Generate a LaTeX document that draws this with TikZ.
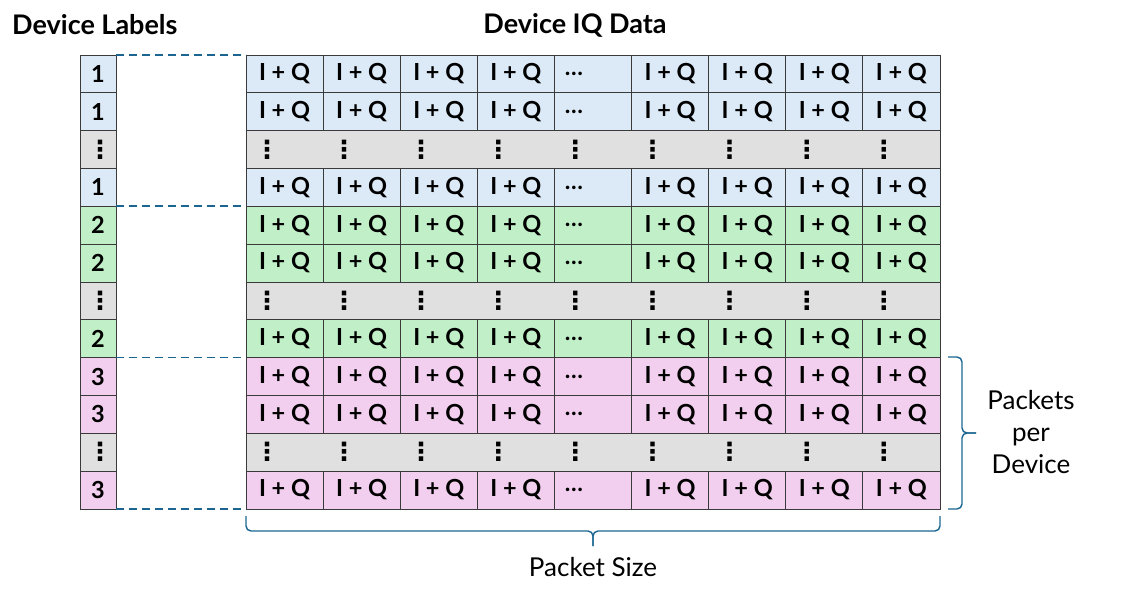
\documentclass[tikz,border=0pt]{standalone}
\usepackage{fontspec}
\setmainfont{Lato}
\newfontfamily\symfont{DejaVu Sans}
\definecolor{cblue}{HTML}{DCEAF7}
\definecolor{cgreen}{HTML}{C1F0C8}
\definecolor{cpink}{HTML}{F2CFEE}
\definecolor{cgray}{HTML}{E0E0E0}
\definecolor{cteal}{HTML}{1A6690}
\definecolor{cline}{HTML}{3A3A3A}
\tikzset{
  cellbox/.style={draw=cline, line width=0.9pt, minimum height=37.83pt, inner sep=0pt, outer sep=0pt, font=\fontsize{23.5}{26}\selectfont\bfseries},
  labbox/.style={cellbox, minimum width=36pt},
  datbox/.style={cellbox, minimum width=77.11pt},
  dotsym/.style={inner sep=0pt, font=\symfont\fontsize{25}{27}\selectfont\bfseries},
  dashline/.style={draw=cteal, line width=1.7pt, dash pattern=on 8pt off 5pt},
  bracestyle/.style={draw=cteal, line width=1.4pt, rounded corners=5pt},
  title/.style={font=\fontsize{27}{30}\selectfont\bfseries, inner sep=0pt},
  plain/.style={font=\fontsize{26}{32}\selectfont, inner sep=0pt, align=center}
}
\begin{document}
\begin{tikzpicture}[x=1pt,y=-1pt]
\useasboundingbox (0,0) rectangle (1132,592);
\def\rh{37.83}
\def\cw{77.11}
% titles
\node[title, anchor=west] (tl) at (12,25) {Device Labels};
\node[title] (tr) at (575,25) {Device IQ Data};
% data rows
\foreach \i/\c/\t in {1/cblue/1,2/cblue/1,4/cblue/1,5/cgreen/2,6/cgreen/2,8/cgreen/2,9/cpink/3,10/cpink/3,12/cpink/3}{
  \pgfmathsetmacro{\yc}{55+(\i-0.5)*\rh}
  \node[labbox, fill=\c] (L\i) at (98,\yc) {\t};
  \foreach \j in {1,...,9}{
    \pgfmathsetmacro{\xc}{246+(\j-0.5)*\cw}
    \ifnum\j=5
      \node[datbox, fill=\c] (D\i-\j) at (\xc,\yc) {};
      \node[font=\fontsize{23.5}{26}\selectfont\bfseries, inner sep=0pt] (E\i) at (574,\yc) {…};
    \else
      \node[datbox, fill=\c] (D\i-\j) at (\xc,\yc) {I + Q};
    \fi
  }
}
% dots rows
\foreach \i in {3,7,11}{
  \pgfmathsetmacro{\yc}{55+(\i-0.5)*\rh}
  \node[labbox, fill=cgray] (L\i) at (98,\yc) {};
  \node[dotsym] (LV\i) at (100,\yc) {⋮};
  \node[cellbox, fill=cgray, minimum width=694pt] (D\i) at (593,\yc) {};
  \foreach \j in {1,...,9}{
    \pgfmathsetmacro{\xd}{246+(\j-1)*\cw+21}
    \node[dotsym] (V\i-\j) at (\xd,\yc) {⋮};
  }
}
% dashed connectors
\draw[dashline] (L1.north east) -- (D1-1.north west);
\draw[dashline] (L4.south east) -- (D4-1.south west);
\draw[dashline] (L8.south east) -- (D8-1.south west);
\draw[dashline] (L12.south east) -- (D12-1.south west);
% bottom brace
\coordinate (bl) at (246,516);
\coordinate (br) at (940,516);
\coordinate (bt) at (593,546);
\draw[bracestyle] (bl) -- (246,531) -- (593,531) -- (bt);
\draw[bracestyle] (br) -- (940,531) -- (593,531) -- (bt);
\node[plain] (ps) at (593,567) {Packet Size};
% right brace
\coordinate (rt) at (948,357);
\coordinate (rb) at (948,509);
\coordinate (rm) at (976,433);
\draw[bracestyle] (rt) -- (962,357) -- (962,433) -- (rm);
\draw[bracestyle] (rb) -- (962,509) -- (962,433) -- (rm);
\node[plain] (ppd) at (1031,432) {Packets\\per\\Device};
\end{tikzpicture}
\end{document}
